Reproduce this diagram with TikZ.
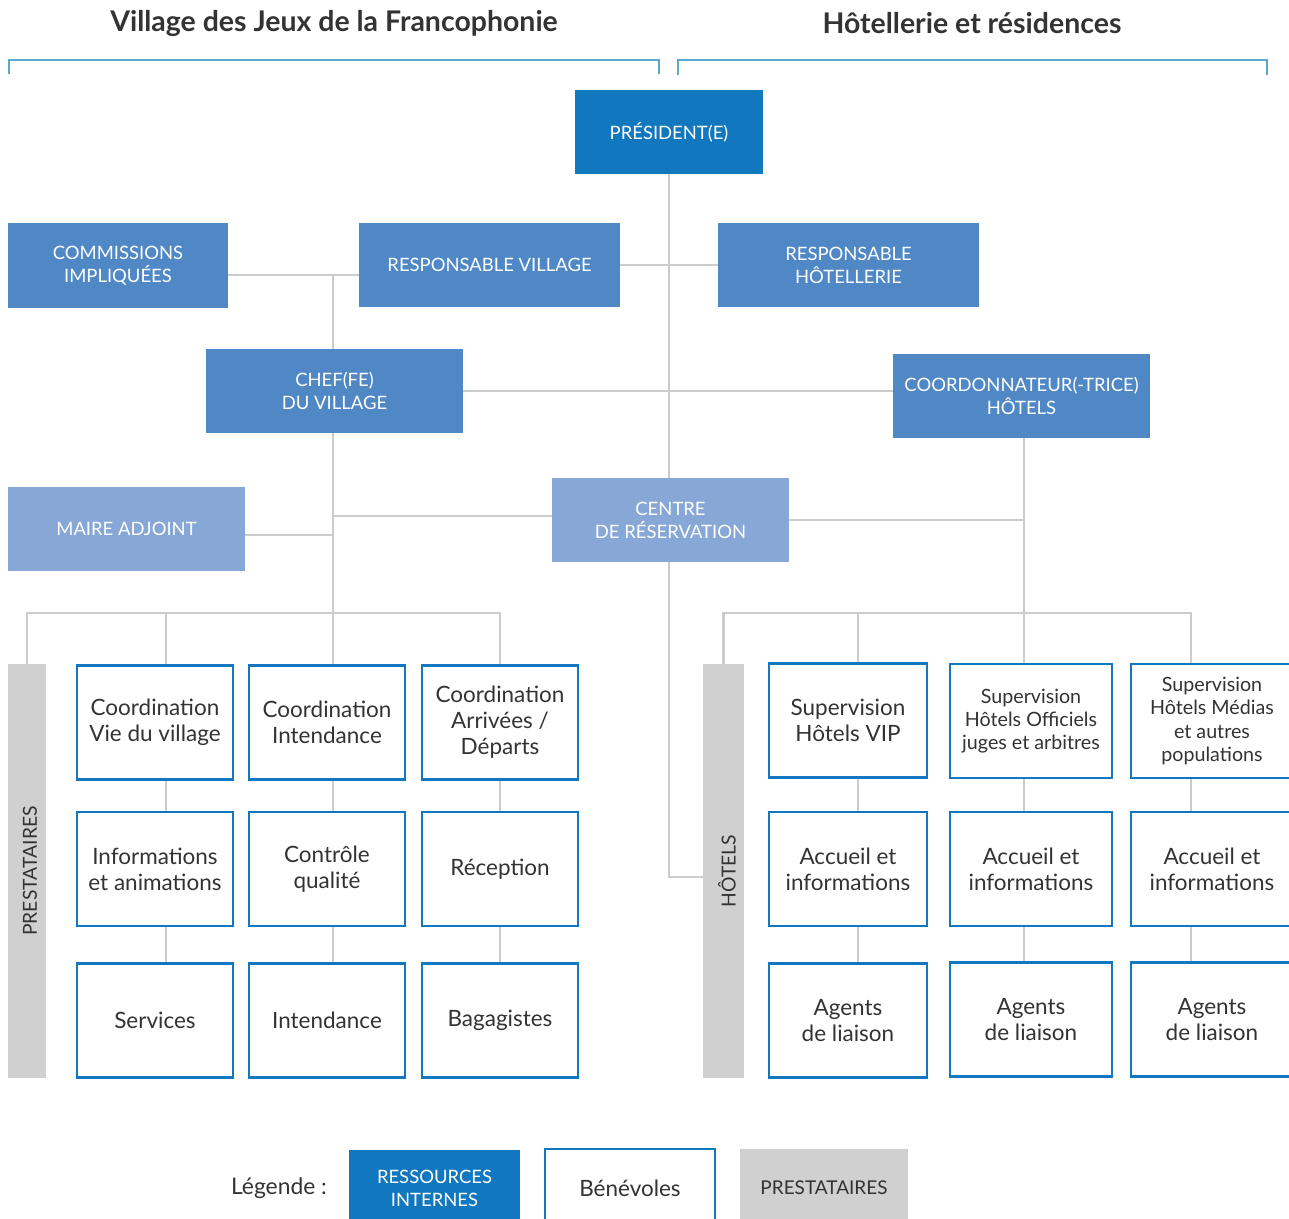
\documentclass[tikz,border=0pt]{standalone}
\usepackage{fontspec}
\setmainfont{Lato}
\usetikzlibrary{shapes}

\definecolor{bleufonce}{RGB}{17,119,190}
\definecolor{bleumoyen}{RGB}{80,136,198}
\definecolor{bleuclair}{RGB}{135,168,215}
\definecolor{grisbarre}{RGB}{208,208,208}
\definecolor{grislien}{RGB}{204,204,204}
\definecolor{turquoise}{RGB}{90,170,205}
\definecolor{texte}{RGB}{51,51,51}

\begin{document}
\begin{tikzpicture}[x=0.02cm,y=-0.02cm]
\tikzstyle{every node}=[inner sep=0pt,align=center,text=texte]
\tikzstyle{cadre}=[text=white,font=\fontsize{10.5}{13}\selectfont,minimum height=1.68cm]
\tikzstyle{interne}=[cadre,fill=bleufonce]
\tikzstyle{moyen}=[cadre,fill=bleumoyen]
\tikzstyle{clair}=[cadre,fill=bleuclair]
\tikzstyle{benev}=[draw=bleufonce,line width=1.6pt,fill=white,minimum width=3.12cm,minimum height=2.28cm,font=\fontsize{12.8}{14.8}\selectfont]
\tikzstyle{petit}=[font=\fontsize{11.2}{13.1}\selectfont]
\tikzstyle{barre}=[fill=grisbarre,minimum height=8.28cm]
\tikzstyle{vertical}=[rotate=90,font=\fontsize{11}{13}\selectfont]
\tikzstyle{lien}=[draw=grislien,line width=1.6pt]
\tikzstyle{titre}=[font=\bfseries\fontsize{16.2}{19}\selectfont]
\useasboundingbox (0,0) rectangle (1289,1218);

% titres et accolades
\node[titre] (tvillage) at (334,23) {Village des Jeux de la Francophonie};
\node[titre] (thotel) at (972,23) {Hôtellerie et résidences};
\draw[turquoise,line width=1.4pt] (9,74) -- (9,60) -- (659,60) -- (659,74);
\draw[turquoise,line width=1.4pt] (678,75) -- (678,60) -- (1267,60) -- (1267,75);

% direction
\node[interne,minimum width=3.76cm] (pres) at (669,132) {PRÉSIDENT(E)};
\node[moyen,minimum width=4.4cm,minimum height=1.7cm] (comm) at (118,265.5) {COMMISSIONS\\IMPLIQUÉES};
\node[moyen,minimum width=5.22cm] (respv) at (489.5,265) {RESPONSABLE VILLAGE};
\node[moyen,minimum width=5.22cm] (resph) at (848.5,265) {RESPONSABLE\\HÔTELLERIE};
\node[moyen,minimum width=5.14cm] (chef) at (334.5,391) {CHEF(FE)\\DU VILLAGE};
\node[moyen,minimum width=5.14cm] (coord) at (1021.5,396) {COORDONNATEUR(-TRICE)\\HÔTELS};
\node[clair,minimum width=4.74cm] (maire) at (126.5,529) {MAIRE ADJOINT};
\node[clair,minimum width=4.74cm] (centre) at (670.5,520) {CENTRE\\DE RÉSERVATION};

% village
\node[barre,minimum width=0.76cm] (pbar) at (27,871) {};
\node[vertical] (ptxt) at (30,871) {PRESTATAIRES};
\node[benev] (coordvie) at (155,722.5) {Coordination\\Vie du village};
\node[benev] (info) at (155,869) {Informations\\et animations};
\node[benev] (services) at (155,1020.5) {Services};
\node[benev] (coordint) at (327,722.5) {Coordination\\Intendance};
\node[benev] (controle) at (327,869) {Contrôle\\qualité};
\node[benev] (intendance) at (327,1020.5) {Intendance};
\node[benev] (coordarr) at (500,722.5) {Coordination\\Arrivées /\\Départs};
\node[benev] (reception) at (500,869) {Réception};
\node[benev] (bagages) at (500,1020.5) {Bagagistes};

% hotels
\node[barre,minimum width=0.82cm] (hbar) at (723.5,871) {};
\node[vertical] (htxt) at (727,871) {HÔTELS};
\node[benev,minimum width=3.16cm] (supvip) at (848,720.5) {Supervision\\Hôtels VIP};
\node[benev,minimum width=3.16cm] (acc1) at (848,869) {Accueil et\\informations};
\node[benev,minimum width=3.16cm] (ag1) at (848,1020.5) {Agents\\de liaison};
\node[benev,petit,minimum width=3.24cm] (supoff) at (1031,721) {Supervision\\Hôtels Officiels\\juges et arbitres};
\node[benev,minimum width=3.24cm] (acc2) at (1031,869) {Accueil et\\informations};
\node[benev,minimum width=3.24cm] (ag2) at (1031,1019.5) {Agents\\de liaison};
\node[benev,petit,minimum width=3.24cm] (supmed) at (1212,721) {Supervision\\Hôtels Médias\\et autres\\populations};
\node[benev,minimum width=3.24cm] (acc3) at (1212,869) {Accueil et\\informations};
\node[benev,minimum width=3.24cm] (ag3) at (1212,1019.5) {Agents\\de liaison};

% liens
\coordinate (vj) at (333,275);
\coordinate (cj) at (333,516);
\coordinate (mj) at (333,535);
\coordinate (lj) at (333,613);
\coordinate (l1) at (166,613);
\coordinate (hj) at (669,877);
\coordinate (rj) at (1024,613);
\coordinate (r1) at (858,613);
\coordinate (r3) at (1191,613);
\draw[lien] (pres.south) -- (pres.south |- centre.north);
\draw[lien] (pres.south |- centre.south) -- (hj) -- (hj -| hbar.west);
\draw[lien] (respv.east) -- (resph.west);
\draw[lien] (comm.east |- vj) -- (respv.west |- vj);
\draw[lien] (vj) -- (vj |- chef.north);
\draw[lien] (chef.east) -- (chef.east -| coord.west);
\draw[lien] (chef.south -| lj) -- (lj);
\draw[lien] (cj) -- (centre.west |- cj);
\draw[lien] (maire.east |- mj) -- (mj);
\draw[lien] (pbar.north) |- (coordarr.north |- lj) -- (coordarr.north);
\draw[lien] (l1) -- (l1 |- coordvie.north);
\draw[lien] (lj) -- (lj |- coordint.north);
\draw[lien] (l1 |- coordvie.south) -- (l1 |- info.north);
\draw[lien] (l1 |- info.south) -- (l1 |- services.north);
\draw[lien] (lj |- coordint.south) -- (lj |- controle.north);
\draw[lien] (lj |- controle.south) -- (lj |- intendance.north);
\draw[lien] (coordarr.south) -- (reception.north);
\draw[lien] (reception.south) -- (bagages.north);
\draw[lien] (coord.south -| rj) -- (rj);
\draw[lien] (centre.east) -- (centre.east -| rj);
\draw[lien] (hbar.north) |- (r3) -- (r3 |- supmed.north);
\draw[lien] (r1) -- (r1 |- supvip.north);
\draw[lien] (rj) -- (rj |- supoff.north);
\draw[lien] (r1 |- supvip.south) -- (r1 |- acc1.north);
\draw[lien] (r1 |- acc1.south) -- (r1 |- ag1.north);
\draw[lien] (rj |- supoff.south) -- (rj |- acc2.north);
\draw[lien] (rj |- acc2.south) -- (rj |- ag2.north);
\draw[lien] (r3 |- supmed.south) -- (r3 |- acc3.north);
\draw[lien] (r3 |- acc3.south) -- (r3 |- ag3.north);

% legende
\node[font=\fontsize{13}{15}\selectfont] (leg) at (279,1188) {Légende :};
\node[interne,minimum width=3.42cm,minimum height=1.52cm] (legint) at (434.5,1188) {RESSOURCES\\INTERNES};
\node[benev,minimum width=3.4cm,minimum height=1.56cm] (legben) at (630,1188) {Bénévoles};
\node[barre,minimum width=3.36cm,minimum height=1.56cm,font=\fontsize{10.8}{13}\selectfont] (legprest) at (824,1188) {PRESTATAIRES};
\end{tikzpicture}
\end{document}
